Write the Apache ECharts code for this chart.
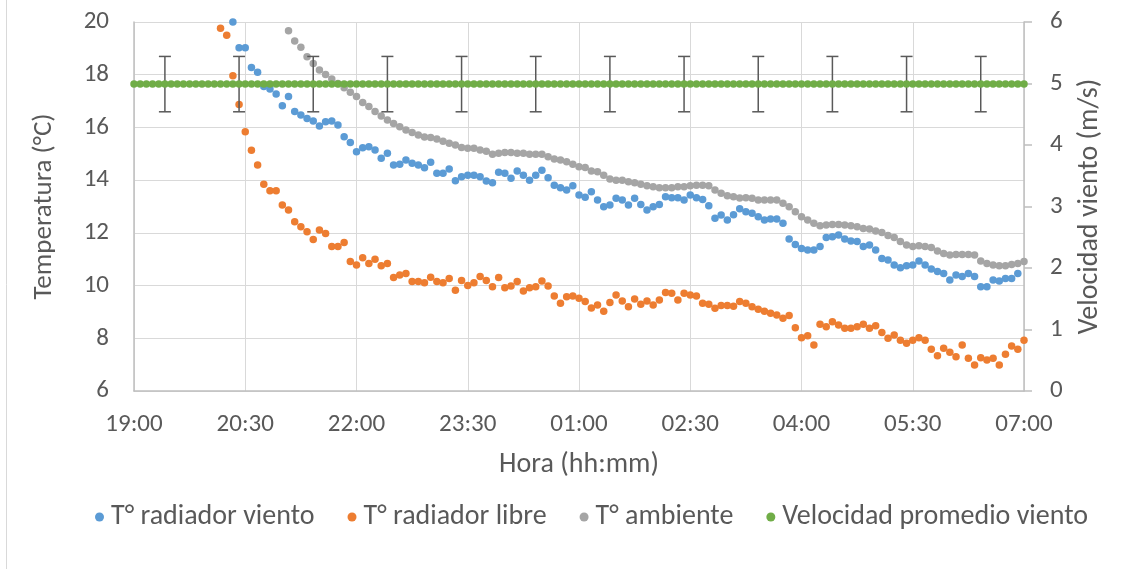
<!DOCTYPE html>
<html>
<head>
<meta charset="utf-8">
<script src="https://cdn.jsdelivr.net/npm/echarts@6/dist/echarts.min.js"></script>
<style>
html,body{margin:0;padding:0;background:#fff;}
#chart{width:1137px;height:569px;}
</style>
</head>
<body>
<div id="chart"></div>
<script>
// Sampling: one reading every 5 minutes, minutes counted from 19:00
const SAMPLE_MIN = 5;
const xTickLabels = ['19:00','20:30','22:00','23:30','01:00','02:30','04:00','05:30','07:00'];
const seriesNames = ['T° radiador viento','T° radiador libre','T° ambiente','Velocidad promedio viento'];

// T° radiador viento (°C), first sample index 16 (20:20)
const startRadViento = 16;
const tRadiadorViento = [
 20.0,19.02,19.02,18.27,18.09,17.55,17.46,17.27,16.82,17.17,
 16.60,16.47,16.34,16.24,16.05,16.22,16.24,16.09,15.65,15.43,
 15.08,15.23,15.27,15.14,14.83,15.02,14.57,14.60,14.76,14.64,
 14.57,14.47,14.68,14.26,14.26,14.42,13.98,14.13,14.19,14.19,
 14.13,13.97,13.90,14.30,14.26,14.07,14.35,14.19,14.00,14.19,
 14.38,14.09,13.81,13.71,13.63,13.79,13.44,13.35,13.56,13.25,
 12.99,13.06,13.31,13.25,13.06,13.31,13.08,12.87,12.99,13.08,
 13.37,13.33,13.33,13.25,13.44,13.33,13.27,13.03,12.55,12.68,
 12.49,12.69,12.91,12.80,12.74,12.61,12.49,12.53,12.53,12.36,
 11.77,11.56,11.41,11.35,11.35,11.48,11.82,11.85,11.92,11.77,
 11.69,11.67,11.48,11.54,11.35,11.03,10.97,10.78,10.68,10.75,
 10.78,10.93,10.78,10.63,10.53,10.46,10.21,10.40,10.34,10.46,
 10.34,9.96,9.96,10.21,10.17,10.27,10.27,10.46
];

// T° radiador libre (°C), first sample index 14 (20:10)
const startRadLibre = 14;
const tRadiadorLibre = [
 19.76,19.5,17.96,16.87,15.84,15.13,14.57,13.84,13.6,13.6,
 13.06,12.87,12.42,12.23,12.04,11.75,12.11,11.98,11.48,11.48,
 11.63,10.91,10.78,11.06,10.84,11.0,10.75,10.84,10.31,10.40,
 10.46,10.15,10.15,10.11,10.32,10.15,10.11,10.27,9.82,10.19,
 10.0,10.11,10.34,10.19,9.96,10.31,9.92,9.98,10.15,9.79,
 9.92,9.96,10.17,9.98,9.60,9.33,9.58,9.60,9.52,9.40,
 9.15,9.26,9.03,9.36,9.64,9.41,9.20,9.49,9.29,9.41,
 9.26,9.45,9.74,9.71,9.45,9.71,9.64,9.60,9.33,9.29,
 9.14,9.24,9.24,9.22,9.40,9.33,9.20,9.10,9.03,8.95,
 8.88,8.76,8.86,8.40,8.02,8.10,7.75,8.53,8.44,8.63,
 8.50,8.38,8.38,8.44,8.53,8.38,8.48,8.22,8.0,8.12,
 7.93,7.81,7.93,8.02,7.93,7.58,7.34,7.62,7.47,7.30,
 7.75,7.24,6.99,7.26,7.18,7.24,6.99,7.39,7.71,7.58,
 7.93
];

// T° ambiente (°C), first sample index 25 (21:05)
const startAmbiente = 25;
const tAmbiente = [
 19.67,19.28,19.04,18.68,18.43,18.18,18.01,17.84,17.67,17.51,
 17.33,17.17,16.95,16.79,16.60,16.43,16.28,16.15,16.03,15.90,
 15.81,15.71,15.64,15.62,15.56,15.48,15.40,15.33,15.24,15.21,
 15.21,15.14,15.10,14.98,15.02,15.05,15.05,15.02,15.02,14.98,
 14.98,14.98,14.89,14.80,14.76,14.70,14.60,14.51,14.48,14.35,
 14.32,14.19,14.04,14.00,14.00,13.94,13.90,13.84,13.79,13.75,
 13.71,13.71,13.71,13.75,13.75,13.79,13.81,13.81,13.79,13.63,
 13.50,13.41,13.37,13.32,13.33,13.31,13.25,13.25,13.25,13.25,
 13.12,12.99,12.80,12.61,12.49,12.36,12.27,12.30,12.32,12.32,
 12.30,12.27,12.23,12.17,12.15,12.07,12.01,11.90,11.82,11.67,
 11.54,11.48,11.51,11.48,11.44,11.31,11.22,11.16,11.18,11.18,
 11.18,11.16,10.93,10.84,10.78,10.75,10.75,10.80,10.84,10.91
];

// Velocidad promedio viento (m/s), first sample index 0 (19:00)
const startViento = 0;
const vViento = [
 4.99,4.99,4.99,4.99,4.99,4.99,4.99,4.99,4.99,4.99,4.99,4.99,
 4.99,4.99,4.99,4.99,4.99,4.99,4.99,4.99,4.99,4.99,4.99,4.99,
 4.99,4.99,4.99,4.99,4.99,4.99,4.99,4.99,4.99,4.99,4.99,4.99,
 4.99,4.99,4.99,4.99,4.99,4.99,4.99,4.99,4.99,4.99,4.99,4.99,
 4.99,4.99,4.99,4.99,4.99,4.99,4.99,4.99,4.99,4.99,4.99,4.99,
 4.99,4.99,4.99,4.99,4.99,4.99,4.99,4.99,4.99,4.99,4.99,4.99,
 4.99,4.99,4.99,4.99,4.99,4.99,4.99,4.99,4.99,4.99,4.99,4.99,
 4.99,4.99,4.99,4.99,4.99,4.99,4.99,4.99,4.99,4.99,4.99,4.99,
 4.99,4.99,4.99,4.99,4.99,4.99,4.99,4.99,4.99,4.99,4.99,4.99,
 4.99,4.99,4.99,4.99,4.99,4.99,4.99,4.99,4.99,4.99,4.99,4.99,
 4.99,4.99,4.99,4.99,4.99,4.99,4.99,4.99,4.99,4.99,4.99,4.99,
 4.99,4.99,4.99,4.99,4.99,4.99,4.99,4.99,4.99,4.99,4.99,4.99,
 4.99
];

// Error bars on wind speed (minutes after 19:00, ± m/s)
const errorBarMinutes = [25,85,145,205,265,325,385,445,505,565,625,685];
const errorBarValue = [4.99,4.99,4.99,4.99,4.99,4.99,4.99,4.99,4.99,4.99,4.99,4.99];
const errorBarDelta = [0.45,0.45,0.45,0.45,0.45,0.45,0.45,0.45,0.45,0.45,0.45,0.45];

function toPairs(start, vals){
  return vals.map((v,i)=>[(start+i)*SAMPLE_MIN, v]);
}
const FONT = 'Carlito, Lato, sans-serif';
const TXT = '#595959';
const colors = ['#5B9BD5','#ED7D31','#A5A5A5','#70AD47'];

const chart = echarts.init(document.getElementById('chart'), null, {renderer:'canvas'});
const option = {
  animation:false,
  backgroundColor:'#ffffff',
  color: colors,
  grid:{left:134, right:113, top:22, bottom:178, containLabel:false},
  legend:{
    data: seriesNames.map(n=>({name:n, icon:'circle'})),
    left:90, top:498,
    itemWidth:9, itemHeight:9, itemGap:33,
    textStyle:{fontFamily:FONT, fontSize:28, color:TXT, padding:[0,0,0,2]}
  },
  xAxis:{
    type:'value', min:0, max:720, interval:90,
    name:'Hora (hh:mm)', nameLocation:'middle', nameGap:60,
    nameTextStyle:{fontFamily:FONT, fontSize:28, color:TXT},
    axisLine:{show:true, lineStyle:{color:'#BFBFBF', width:1.5}},
    axisTick:{show:false},
    axisLabel:{fontFamily:FONT, fontSize:25, color:TXT, margin:21,
      formatter:(v)=>xTickLabels[Math.round(v/90)] || ''},
    splitLine:{show:true, lineStyle:{color:'#D9D9D9', width:1}}
  },
  yAxis:[
    {
      type:'value', min:6, max:20, interval:2,
      name:'Temperatura (°C)', nameLocation:'middle', nameGap:76, nameRotate:90,
      nameTextStyle:{fontFamily:FONT, fontSize:27, color:TXT},
      axisLine:{show:true, lineStyle:{color:'#BFBFBF', width:1.5}},
      axisTick:{show:false},
      axisLabel:{fontFamily:FONT, fontSize:25, color:TXT, margin:25},
      splitLine:{show:true, lineStyle:{color:'#D9D9D9', width:1}}
    },
    {
      type:'value', min:0, max:6, interval:1, position:'right',
      name:'Velocidad viento (m/s)', nameLocation:'middle', nameGap:52, nameRotate:90,
      nameTextStyle:{fontFamily:FONT, fontSize:28, color:TXT},
      axisLine:{show:true, lineStyle:{color:'#BFBFBF', width:1.5}},
      axisTick:{show:true, inside:false, length:8, lineStyle:{color:'#BFBFBF', width:1.5}},
      axisLabel:{fontFamily:FONT, fontSize:25, color:TXT, margin:26},
      splitLine:{show:false}
    }
  ],
  series:[
    {name:seriesNames[0], type:'scatter', symbol:'circle', symbolSize:7.5, yAxisIndex:0,
     itemStyle:{color:colors[0], opacity:1}, data:toPairs(startRadViento, tRadiadorViento), z:2},
    {name:seriesNames[1], type:'scatter', symbol:'circle', symbolSize:7.5, yAxisIndex:0,
     itemStyle:{color:colors[1], opacity:1}, data:toPairs(startRadLibre, tRadiadorLibre), z:3},
    {name:seriesNames[2], type:'scatter', symbol:'circle', symbolSize:7.5, yAxisIndex:0,
     itemStyle:{color:colors[2], opacity:1}, data:toPairs(startAmbiente, tAmbiente), z:4},
    {name:'errores', type:'custom', yAxisIndex:1, z:5, silent:true,
     data: errorBarMinutes.map((m,i)=>[m, errorBarValue[i]+errorBarDelta[i], errorBarValue[i]-errorBarDelta[i]]),
     renderItem:function(params, api){
       const hi = api.coord([api.value(0), api.value(1)]);
       const lo = api.coord([api.value(0), api.value(2)]);
       const half = 6;
       const st = {stroke:'#595959', lineWidth:1.5};
       return {type:'group', children:[
         {type:'line', shape:{x1:hi[0], y1:hi[1], x2:lo[0], y2:lo[1]}, style:st},
         {type:'line', shape:{x1:hi[0]-half, y1:hi[1], x2:hi[0]+half, y2:hi[1]}, style:st},
         {type:'line', shape:{x1:lo[0]-half, y1:lo[1], x2:lo[0]+half, y2:lo[1]}, style:st}
       ]};
     }},
    {name:seriesNames[3], type:'scatter', symbol:'circle', symbolSize:7.5, yAxisIndex:1,
     itemStyle:{color:colors[3], opacity:1}, data:toPairs(startViento, vViento), z:6}
  ],
  graphic:[
    {type:'line', shape:{x1:6.5, y1:0, x2:6.5, y2:569}, style:{stroke:'#D9D9D9', lineWidth:1}, silent:true}
  ]
};
chart.setOption(option);
</script>
</body>
</html>
